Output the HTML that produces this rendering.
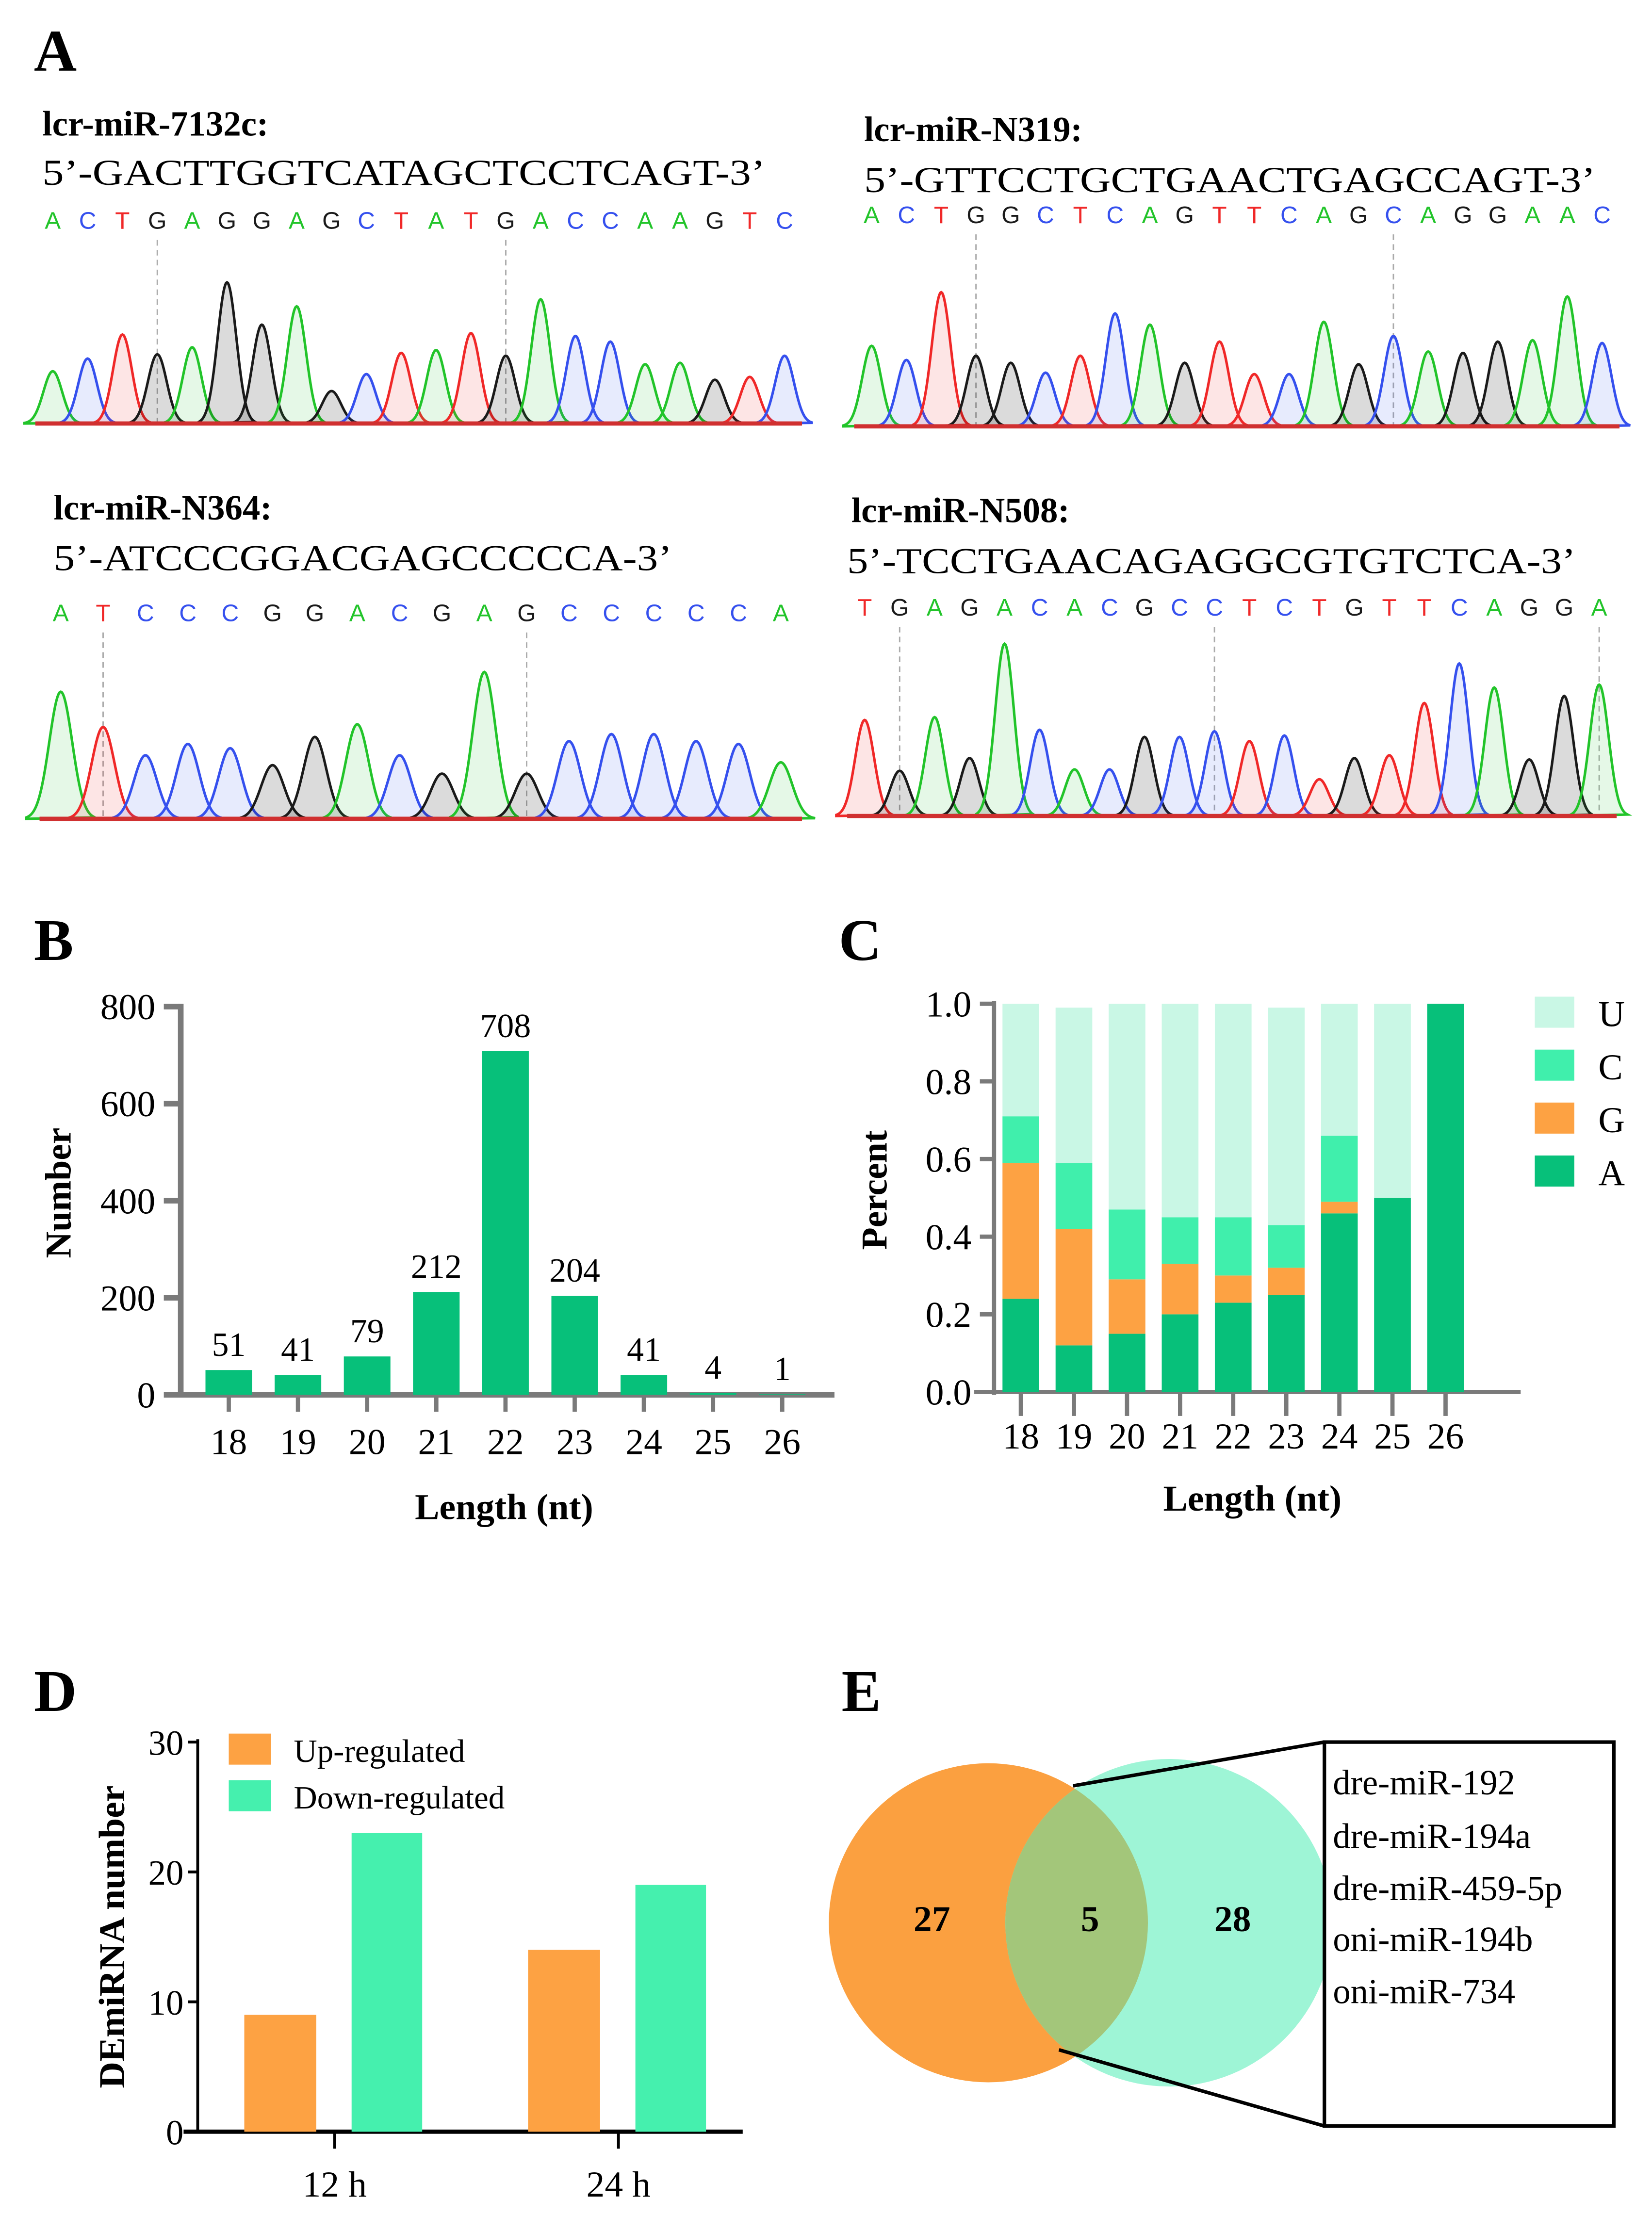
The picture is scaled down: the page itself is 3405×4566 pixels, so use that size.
<!DOCTYPE html>
<html><head><meta charset="utf-8"><style>
html,body{margin:0;padding:0;background:#fff;}
svg{display:block;}
text{font-family:"Liberation Serif",serif;fill:#000;}
.b{font-weight:bold;}
</style></head><body>
<svg id="fig" width="3405" height="4566" viewBox="0 0 1170 1569" xmlns="http://www.w3.org/2000/svg">
<rect width="1170" height="1569" fill="#fff"/>
<g id="panelA">
<text x="24" y="50" font-size="42" class="b">A</text>
<text x="30" y="96" font-size="25" class="b">lcr-miR-7132c:</text>
<text x="30" y="131" font-size="26" textLength="512" lengthAdjust="spacingAndGlyphs">5’-GACTTGGTCATAGCTCCTCAGT-3’</text>
<text x="612" y="100" font-size="25" class="b">lcr-miR-N319:</text>
<text x="612" y="136" font-size="26" textLength="518" lengthAdjust="spacingAndGlyphs">5’-GTTCCTGCTGAACTGAGCCAGT-3’</text>
<text x="38" y="368" font-size="25" class="b">lcr-miR-N364:</text>
<text x="38" y="404" font-size="26" textLength="438" lengthAdjust="spacingAndGlyphs">5’-ATCCCGGACGAGCCCCCA-3’</text>
<text x="603" y="370" font-size="25" class="b">lcr-miR-N508:</text>
<text x="600" y="406" font-size="26" textLength="516" lengthAdjust="spacingAndGlyphs">5’-TCCTGAACAGAGGCGTGTCTCA-3’</text>
</g>
<g id="chroms"></g>
<g id="panelB"></g>
<g id="panelC"></g>
<g id="panelD"></g>
<g id="panelE">
<text x="596" y="1212" font-size="42" class="b">E</text>
<circle cx="700" cy="1362" r="113" fill="#fba040"/>
<circle cx="828" cy="1362" r="116" fill="#9ef5d6"/>
<clipPath id="cl"><circle cx="700" cy="1362" r="113"/></clipPath>
<circle cx="828" cy="1362" r="116" fill="#a3c67a" clip-path="url(#cl)"/>
<text x="660" y="1368" font-size="26" class="b" text-anchor="middle">27</text>
<text x="772" y="1368" font-size="26" class="b" text-anchor="middle">5</text>
<text x="873" y="1368" font-size="26" class="b" text-anchor="middle">28</text>
<line x1="760" y1="1265" x2="938" y2="1234" stroke="#000" stroke-width="2.5"/>
<line x1="750" y1="1452" x2="938" y2="1506" stroke="#000" stroke-width="2.5"/>
<rect x="938" y="1234" width="205" height="272" fill="#fff" stroke="#000" stroke-width="2.5"/>
<g font-size="25">
<text x="944" y="1271">dre-miR-192</text>
<text x="944" y="1309">dre-miR-194a</text>
<text x="944" y="1346">dre-miR-459-5p</text>
<text x="944" y="1382">oni-miR-194b</text>
<text x="944" y="1419">oni-miR-734</text>
</g>
</g>
</svg>
<script>
const NS='http://www.w3.org/2000/svg';
function mk(parent,tag,attrs,txt){const e=document.createElementNS(NS,tag);for(const k in attrs)e.setAttribute(k,attrs[k]);if(txt!==undefined)e.textContent=txt;parent.appendChild(e);return e;}

// ---------- Chromatogram data ----------
const chromSeq1='ACTGAGGAGCTATGACCAAGTC';
const chromPeaks1='ACTGAGGAGCTATGACCAAGTC';
const chromHeights1=[37,46,63,49,54,100,70,83,23,35,50,52,64,48,88,62,58,42,43,31,33,48];
const chromSeq2='ACTGGCTCAGTTCAGCAGGAAC';
const chromPeaks2='ACTGGCTCAGTTCAGCAGGAAC';
const chromHeights2=[57,47,95,50,45,38,50,80,72,45,60,37,37,74,44,64,53,52,60,61,92,59];
const chromSeq3='ATCCCGGACGAGCCCCCA';
const chromPeaks3='ATCCCGGACGAGCCCCCA';
const chromHeights3=[90,65,45,53,50,38,58,67,45,32,104,32,55,60,60,55,53,40];
const chromSeq4='TGAGACACGCCTCTGTTCAGGA';
const chromPeaks4='TGAGACACGCCTCTGTTCAGGA';
const chromHeights4=[68,32,70,41,122,61,33,33,56,56,60,53,57,26,41,43,80,108,91,40,85,93];

const baseCol={A:'#22c42a',C:'#3550ee',G:'#1a1a1a',T:'#f02828'};
const baseFill={A:'rgba(40,200,60,0.12)',C:'rgba(60,90,240,0.12)',G:'rgba(0,0,0,0.14)',T:'rgba(240,40,40,0.12)'};
const chroms=[
 {seq:chromSeq1,peaks:chromPeaks1,h:chromHeights1,x0:25,x1:568,base:300,ty:162,dash:[3,13]},
 {seq:chromSeq2,peaks:chromPeaks2,h:chromHeights2,x0:605,x1:1147,base:302,ty:158,dash:[3,15]},
 {seq:chromSeq3,peaks:chromPeaks3,h:chromHeights3,x0:28,x1:568,base:580,ty:440,dash:[1,11]},
 {seq:chromSeq4,peaks:chromPeaks4,h:chromHeights4,x0:600,x1:1145,base:578,ty:436,dash:[1,10,21]}
];
const cg=document.getElementById('chroms');
chroms.forEach((c,ci)=>{
  const g=mk(cg,'g',{});
  
  
  const n=c.peaks.length, sp=(c.x1-c.x0)/n;
  for(let i=0;i<c.seq.length;i++){
    const x=c.x0+sp*(i+0.5);
    const t=mk(g,'text',{x:x,y:c.ty,'font-size':17,'text-anchor':'middle',style:'font-family:"Liberation Sans",sans-serif;fill:'+baseCol[c.seq[i]]},c.seq[i]);
    
    
  }
  c.dash.forEach(i=>{
    const x=c.x0+sp*(i+0.5);
    const l=mk(g,'line',{x1:x,x2:x,y1:c.ty+8,y2:c.base,stroke:'#aaa','stroke-width':1,'stroke-dasharray':'4,3'});
    
    
  });
  for(let i=0;i<n;i++){
    const cx=c.x0+sp*(i+0.5), s=sp*0.27, hh=c.h[i];
    let d='M'+(cx-3*s)+','+c.base;
    for(let k=-30;k<=30;k++){const xx=cx+k*s/10;d+=' L'+xx.toFixed(2)+','+(c.base-hh*Math.exp(-0.5*(k/10)*(k/10))).toFixed(2);}
    d+=' Z';
    const p=mk(g,'path',{d:d,fill:baseFill[c.peaks[i]],stroke:baseCol[c.peaks[i]],'stroke-width':1.8});
    
    
  }
  const bl=mk(g,'line',{x1:c.x0,x2:c.x1,y1:c.base,y2:c.base,stroke:'#d03030','stroke-width':3});
  
  
});

// ---------- Panel B ----------
const bCategories=['18','19','20','21','22','23','24','25','26'];
const bValues=[51,41,79,212,708,204,41,4,1];
const bTicks=[0,200,400,600,800];
(function(){
  const g=document.getElementById('panelB');
  const y=v=>988-v*(275/800), x=i=>162+i*49.0;
  mk(g,'text',{x:24,y:680,'font-size':42,class:'b'},'B');
  mk(g,'line',{x1:128,y1:711,x2:128,y2:990,stroke:'#7a7a7a','stroke-width':4});
  mk(g,'line',{x1:118,y1:988,x2:591,y2:988,stroke:'#7a7a7a','stroke-width':4});
  bTicks.forEach(t=>{
    mk(g,'line',{x1:116,x2:128,y1:y(t),y2:y(t),stroke:'#7a7a7a','stroke-width':4});
    const tx=mk(g,'text',{x:110,y:y(t)+9,'font-size':26,'text-anchor':'end'},String(t));
    
    
  });
  bValues.forEach((v,i)=>{
    const r=mk(g,'rect',{x:x(i)-16.5,y:y(v),width:33,height:988-y(v),fill:'#07c07a'});
    
    
    mk(g,'text',{x:x(i),y:y(v)-10,'font-size':24,'text-anchor':'middle'},String(v));
    mk(g,'line',{x1:x(i),x2:x(i),y1:988,y2:1000,stroke:'#7a7a7a','stroke-width':3});
    const tl=mk(g,'text',{x:x(i),y:1030,'font-size':26,'text-anchor':'middle'},bCategories[i]);
    
    
  });
  const yl=mk(g,'text',{x:0,y:0,'font-size':26,class:'b','text-anchor':'middle',transform:'translate(50,845) rotate(-90)'},'Number');
  
  
  const xl=mk(g,'text',{x:357,y:1076,'font-size':26,class:'b','text-anchor':'middle'},'Length (nt)');
  
  
})();

// ---------- Panel C ----------
const cCategories=['18','19','20','21','22','23','24','25','26'];
const cA=[0.24,0.12,0.15,0.20,0.23,0.25,0.46,0.50,1.00];
const cG=[0.35,0.30,0.14,0.13,0.07,0.07,0.03,0.00,0.00];
const cC=[0.12,0.17,0.18,0.12,0.15,0.11,0.17,0.00,0.00];
const cU=[0.29,0.40,0.53,0.55,0.55,0.56,0.34,0.50,0.00];
const cTicks=['0.0','0.2','0.4','0.6','0.8','1.0'];
(function(){
  const g=document.getElementById('panelC');
  const y=v=>986-v*275, x=i=>723+i*37.6;
  mk(g,'text',{x:594,y:680,'font-size':42,class:'b'},'C');
  mk(g,'line',{x1:704,y1:709,x2:704,y2:988,stroke:'#7a7a7a','stroke-width':3});
  mk(g,'line',{x1:690,y1:986,x2:1077,y2:986,stroke:'#7a7a7a','stroke-width':3});
  cTicks.forEach(t=>{
    const v=parseFloat(t);
    mk(g,'line',{x1:694,x2:704,y1:y(v),y2:y(v),stroke:'#7a7a7a','stroke-width':3});
    const tx=mk(g,'text',{x:688,y:y(v)+9,'font-size':26,'text-anchor':'end'},t);
    
    
  });
  const series=[['A',cA,'#07c07a'],['G',cG,'#fda243'],['C',cC,'#40efac'],['U',cU,'#c9f7e5']];
  cCategories.forEach((cat,i)=>{
    let acc=0;
    series.forEach(s=>{
      const v=s[1][i];
      const r=mk(g,'rect',{x:x(i)-13,y:y(acc+v),width:26,height:y(acc)-y(acc+v),fill:s[2]});
      
      
      acc+=v;
    });
    mk(g,'line',{x1:x(i),x2:x(i),y1:986,y2:1003,stroke:'#7a7a7a','stroke-width':3});
    const tl=mk(g,'text',{x:x(i),y:1026,'font-size':26,'text-anchor':'middle'},cat);
    
    
  });
  const leg=[['U','#c9f7e5'],['C','#40efac'],['G','#fda243'],['A','#07c07a']];
  leg.forEach((l,i)=>{
    const r=mk(g,'rect',{x:1087,y:706+i*37.5,width:28,height:22,fill:l[1]});
    
    
    mk(g,'text',{x:1132,y:727+i*37.5,'font-size':26},l[0]);
  });
  const yl=mk(g,'text',{x:0,y:0,'font-size':26,class:'b','text-anchor':'middle',transform:'translate(628,843) rotate(-90)'},'Percent');
  
  
  const xl=mk(g,'text',{x:887,y:1070,'font-size':26,class:'b','text-anchor':'middle'},'Length (nt)');
  
  
})();

// ---------- Panel D ----------
const dCategories=['12 h','24 h'];
const dUp=[9,14];
const dDown=[23,19];
const dTicks=[0,10,20,30];
(function(){
  const g=document.getElementById('panelD');
  const y=v=>1510-v*(276/30), xc=i=>237+i*201;
  mk(g,'text',{x:24,y:1212,'font-size':42,class:'b'},'D');
  mk(g,'line',{x1:140,y1:1232,x2:140,y2:1511,stroke:'#000','stroke-width':2});
  mk(g,'line',{x1:130,y1:1510,x2:526,y2:1510,stroke:'#000','stroke-width':3});
  dTicks.forEach(t=>{
    mk(g,'line',{x1:133,x2:140,y1:y(t),y2:y(t),stroke:'#000','stroke-width':2});
    const tx=mk(g,'text',{x:130,y:y(t)+9,'font-size':25,'text-anchor':'end'},String(t));
    
    
  });
  dCategories.forEach((c,i)=>{
    const r1=mk(g,'rect',{x:xc(i)-64,y:y(dUp[i]),width:51,height:1510-y(dUp[i]),fill:'#fda243'});
    
    
    const r2=mk(g,'rect',{x:xc(i)+12,y:y(dDown[i]),width:50,height:1510-y(dDown[i]),fill:'#45f0ae'});
    
    
    mk(g,'line',{x1:xc(i),x2:xc(i),y1:1510,y2:1522,stroke:'#000','stroke-width':2});
    const tl=mk(g,'text',{x:xc(i),y:1556,'font-size':26,'text-anchor':'middle'},c);
    
    
  });
  [['Up-regulated','#fda243',1228],['Down-regulated','#45f0ae',1261]].forEach(l=>{
    const r=mk(g,'rect',{x:162,y:l[2],width:30,height:22,fill:l[1]});
    
    
    mk(g,'text',{x:208,y:l[2]+20,'font-size':23},l[0]);
  });
  const yl=mk(g,'text',{x:0,y:0,'font-size':26,class:'b','text-anchor':'middle',transform:'translate(88,1372) rotate(-90)'},'DEmiRNA number');
  
  
})();
</script>
</body></html>
